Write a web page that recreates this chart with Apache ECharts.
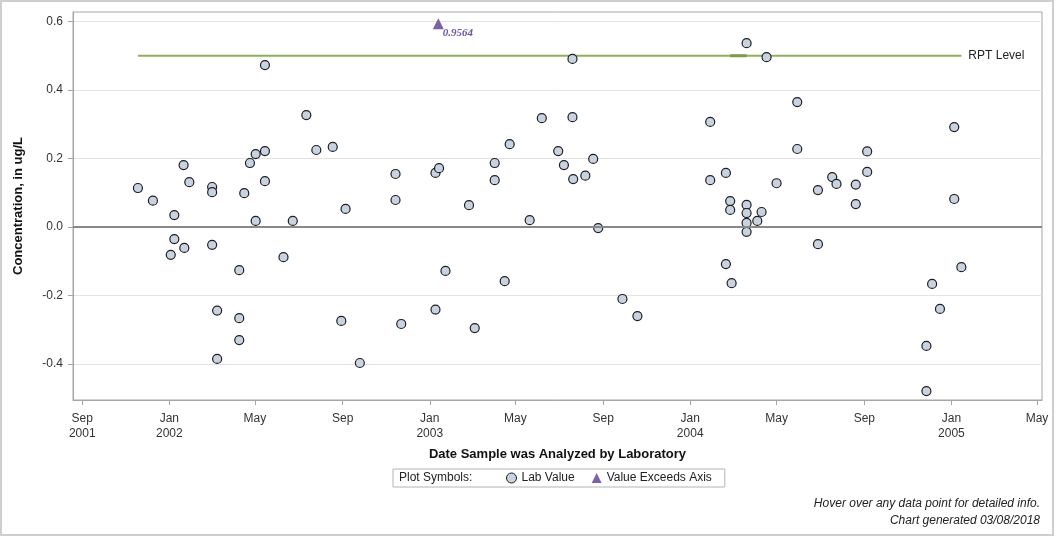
<!DOCTYPE html>
<html>
<head>
<meta charset="utf-8">
<script src="https://cdn.jsdelivr.net/npm/echarts@6/dist/echarts.min.js"></script>
<style>
  html, body { margin: 0; padding: 0; background: #fff; }
  #chart { width: 1056px; height: 538px; }
</style>
</head>
<body>
<div id="chart"></div>
<script>
// lab results (date analysed, concentration ug/L)
var labDates = [
  '2001-11-18','2001-12-09','2002-01-03','2002-01-08','2002-01-08','2002-01-21','2002-01-22','2002-01-29',
  '2002-03-02','2002-03-02','2002-03-02','2002-03-09','2002-03-09',
  '2002-04-09','2002-04-09','2002-04-09','2002-04-16','2002-04-24','2002-05-02','2002-05-02',
  '2002-05-15','2002-05-15','2002-05-15','2002-06-10','2002-06-23','2002-07-12','2002-07-26','2002-08-18','2002-08-30','2002-09-05','2002-09-25',
  '2002-11-14','2002-11-14','2002-11-22','2003-01-09','2003-01-14','2003-01-09','2003-01-23',
  '2003-02-25','2003-03-05','2003-04-02','2003-04-02','2003-04-16','2003-04-23','2003-05-21','2003-06-07','2003-06-30','2003-07-08',
  '2003-07-20','2003-07-20','2003-07-21','2003-08-07','2003-08-18','2003-08-25','2003-09-28','2003-10-19',
  '2004-01-29','2004-01-29','2004-02-20','2004-02-20','2004-02-26','2004-02-26','2004-02-28',
  '2004-03-20','2004-03-20','2004-03-20','2004-03-20','2004-03-20','2004-04-04','2004-04-10','2004-04-17','2004-05-01',
  '2004-05-30','2004-05-30','2004-06-28','2004-06-28','2004-07-18','2004-07-24','2004-08-20','2004-08-20','2004-09-05','2004-09-05',
  '2004-11-27','2004-11-27','2004-12-05','2004-12-16','2005-01-05','2005-01-05','2005-01-15'
];
var labValues = [
  0.114, 0.077, -0.081, 0.035, -0.035, 0.181, -0.061, 0.131,
  0.117, 0.102, -0.052, -0.244, -0.385,
  -0.126, -0.266, -0.330, 0.099, 0.187, 0.213, 0.018,
  0.222, 0.134, 0.473, -0.088, 0.018, 0.327, 0.225, 0.234, -0.274, 0.053, -0.397,
  0.155, 0.079, -0.283, 0.158, 0.172, -0.241, -0.128,
  0.064, -0.295, 0.187, 0.137, -0.158, 0.242, 0.020, 0.318, 0.222, 0.181,
  0.491, 0.321, 0.140, 0.150, 0.199, -0.003, -0.210, -0.260,
  0.307, 0.137, 0.158, -0.108, 0.076, 0.050, -0.164,
  0.537, 0.065, 0.041, 0.012, -0.014, 0.018, 0.044, 0.496, 0.128,
  0.365, 0.228, 0.108, -0.050, 0.146, 0.126, 0.124, 0.067, 0.221, 0.161,
  -0.347, -0.479, -0.166, -0.239, 0.292, 0.082, -0.117
];

// value above the axis: drawn at the top, labelled with the real value
var exceedDates = ['2003-01-13'];
var exceedPlotValues = [0.594];
var exceedActual = [0.9564];

// reporting level line
var rptDates = ['2001-11-18', '2005-01-15'];
var rptValues = [0.5, 0.5];
var rptBoldDates = ['2004-02-26', '2004-03-20'];

// axis ticks
var xTickDates = ['2001-09-01','2002-01-01','2002-05-01','2002-09-01','2003-01-01','2003-05-01',
                  '2003-09-01','2004-01-01','2004-05-01','2004-09-01','2005-01-01','2005-05-01'];
var xTickLabels = ['Sep\n2001','Jan\n2002','May','Sep','Jan\n2003','May',
                   'Sep','Jan\n2004','May','Sep','Jan\n2005','May'];
var yTicks = [-0.4, -0.2, 0.0, 0.2, 0.4, 0.6];

var FONT = '"Liberation Sans", Arial, sans-serif';

function ts(s) {
  var p = s.split('-');
  return Date.UTC(+p[0], +p[1] - 1, +p[2]);
}
function pairs(dates, vals) {
  return dates.map(function (d, i) { return [ts(d), vals[i]]; });
}

var xTickTs = xTickDates.map(ts);
var xLabelOf = {};
xTickTs.forEach(function (t, i) { xLabelOf[t] = xTickLabels[i]; });

var chart = echarts.init(document.getElementById('chart'), null, { renderer: 'canvas' });

option = {
  backgroundColor: '#fff',
  animation: false,
  textStyle: { fontFamily: FONT },
  grid: {
    left: 73, right: 14, top: 12, bottom: 138,
    show: true, borderColor: '#a6a6a6', borderWidth: 1
  },
  legend: {
    left: 393, top: 469,
    padding: [3, 13, 3, 113],
    borderColor: '#b4b4b4', borderWidth: 1,
    itemWidth: 10, itemHeight: 10, itemGap: 17,
    textStyle: { fontFamily: FONT, fontSize: 12, color: '#222' },
    data: [
      { name: 'Lab Value', icon: 'circle', itemStyle: { color: '#c8d3e2', borderColor: '#1e1e1e', borderWidth: 1 } },
      { name: 'Value Exceeds Axis', icon: 'triangle', itemStyle: { color: '#7b61a8', borderWidth: 0 } }
    ]
  },
  xAxis: {
    type: 'value',
    min: ts('2001-08-19'),
    max: ts('2005-05-08'),
    name: 'Date Sample was Analyzed by Laboratory',
    nameLocation: 'middle',
    nameGap: 48,
    nameTextStyle: { fontFamily: FONT, fontSize: 13, fontWeight: 'bold', color: '#111' },
    axisLine: { onZero: false, lineStyle: { color: '#a6a6a6' } },
    axisTick: { show: true, length: 5, customValues: xTickTs, lineStyle: { color: '#a6a6a6' } },
    axisLabel: {
      customValues: xTickTs,
      fontFamily: FONT, fontSize: 12, color: '#333', lineHeight: 15, margin: 11,
      hideOverlap: false,
      formatter: function (v) { return xLabelOf[v] || ''; }
    },
    splitLine: { show: false }
  },
  yAxis: {
    type: 'value',
    min: -0.505,
    max: 0.628,
    name: 'Concentration, in ug/L',
    nameLocation: 'middle',
    nameGap: 48,
    nameTextStyle: { fontFamily: FONT, fontSize: 13, fontWeight: 'bold', color: '#111' },
    axisLine: { show: true, onZero: false, lineStyle: { color: '#a6a6a6' } },
    axisTick: { show: true, length: 5, customValues: yTicks, lineStyle: { color: '#a6a6a6' } },
    axisLabel: {
      customValues: yTicks,
      fontFamily: FONT, fontSize: 12, color: '#333', margin: 10,
      formatter: function (v) { return (Math.abs(v) < 1e-9 ? 0 : v).toFixed(1); }
    },
    splitLine: { show: true, lineStyle: { color: '#e3e3e3', width: 1 } }
  },
  graphic: [
    {
      type: 'rect', silent: true, z: -1,
      shape: { x: 1, y: 1, width: 1052, height: 534 },
      style: { fill: 'none', stroke: '#cfcfcf', lineWidth: 2 }
    },
    {
      type: 'text', left: 399, top: 472,
      style: { text: 'Plot Symbols:', font: '12px ' + FONT, fill: '#222' }
    },
    {
      type: 'text', right: 16, top: 498,
      style: { text: 'Hover over any data point for detailed info.', font: 'italic 12px ' + FONT, fill: '#222', textAlign: 'right' }
    },
    {
      type: 'text', right: 16, top: 515,
      style: { text: 'Chart generated 03/08/2018', font: 'italic 12px ' + FONT, fill: '#222', textAlign: 'right' }
    }
  ],
  series: [
    {
      name: 'RPT Level',
      type: 'line',
      data: pairs(rptDates, rptValues),
      symbol: 'none',
      z: 2,
      lineStyle: { color: '#8fb05a', width: 2 },
      endLabel: {
        show: true, formatter: 'RPT Level', distance: 7,
        fontFamily: FONT, fontSize: 12, color: '#222'
      },
      markLine: {
        silent: true, symbol: 'none',
        label: { show: false },
        lineStyle: { color: '#888', width: 2, type: 'solid' },
        data: [{ yAxis: 0 }]
      }
    },
    {
      name: 'RPT Bold',
      type: 'line',
      data: pairs(rptBoldDates, rptValues),
      symbol: 'none',
      z: 2,
      lineStyle: { color: '#7d9c45', width: 3 }
    },
    {
      name: 'Lab Value',
      type: 'scatter',
      data: pairs(labDates, labValues),
      symbol: 'circle',
      symbolSize: 9,
      z: 3,
      itemStyle: { color: '#c8d3e2', borderColor: '#1e1e1e', borderWidth: 1.2, opacity: 1 }
    },
    {
      name: 'Value Exceeds Axis',
      type: 'scatter',
      data: pairs(exceedDates, exceedPlotValues),
      symbol: 'triangle',
      symbolSize: 11,
      z: 4,
      itemStyle: { color: '#7b61a8', opacity: 1 },
      label: {
        show: true, position: 'right', offset: [-6, 10],
        formatter: function (p) { return exceedActual[p.dataIndex].toFixed(4); },
        fontFamily: '"Liberation Serif", "Times New Roman", serif',
        fontStyle: 'italic', fontWeight: 'bold', fontSize: 11, color: '#6f55a0'
      }
    }
  ]
};

chart.setOption(option);

window.addEventListener('resize', function () {
  if (chart != null && chart != undefined) {
    chart.resize();
  }
});
</script>
</body>
</html>
